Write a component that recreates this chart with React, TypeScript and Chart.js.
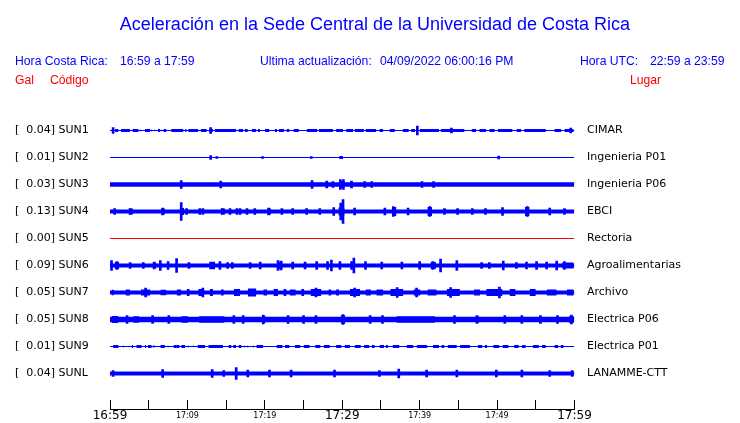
import React, { useEffect, useRef } from 'react';
import { Chart, registerables } from 'chart.js';

Chart.register(...registerables);

// ---------- text ----------
const TITLE = 'Aceleración en la Sede Central de la Universidad de Costa Rica';
const LOCAL_LABEL = 'Hora Costa Rica:';
const LOCAL_RANGE = '16:59 a 17:59';
const UPDATE_LABEL = 'Ultima actualización:';
const UPDATE_VALUE = '04/09/2022 06:00:16 PM';
const UTC_LABEL = 'Hora UTC:';
const UTC_RANGE = '22:59 a 23:59';
const COL_GAL = 'Gal';
const COL_CODE = 'Código';
const COL_PLACE = 'Lugar';

// ---------- categories ----------
const STATIONS = ['SUN1', 'SUN2', 'SUN3', 'SUN4', 'SUN5', 'SUN6', 'SUN7', 'SUN8', 'SUN9', 'SUNL'];
const PEAK_GAL = [0.04, 0.01, 0.03, 0.13, 0.0, 0.09, 0.05, 0.05, 0.01, 0.04];
const PLACES = ['CIMAR', 'Ingenieria P01', 'Ingenieria P06', 'EBCI', 'Rectoria', 'Agroalimentarias', 'Archivo', 'Electrica P06', 'Electrica P01', 'LANAMME-CTT'];

// time axis: minutes after 16:59, ticks every 5 minutes
const WINDOW_MINUTES = 60;
const TICK_STEP = 5;
const TIME_TICK_LABELS = ['16:59', '', '17:09', '', '17:19', '', '17:29', '', '17:39', '', '17:49', '', '17:59'];
const MAJOR_TIME_LABELS = ['16:59', '17:29', '17:59'];

// ---------- trace values (trace units; one row of the record = 27 units) ----------
const ROW_UNITS = 27;
// half amplitude of the continuous background noise of each trace
const NOISE_LEVEL = [0.5, 0.5, 2.3, 1.9, 0.5, 2.0, 1.9, 2.8, 0.6, 1.9];

// bursts: [start minute, end minute, half amplitude]
const SUN1_BURSTS: [number, number, number][] = [
  [0.65, 1.1, 1.6], [1.4, 2.6, 1.6], [2.9, 3.7, 1.6], [3.85, 3.95, 1.6], [4.5, 5.2, 1.6], [5.35, 5.45, 1.6],
  [5.75, 5.85, 1.6], [6.2, 6.5, 1.6], [6.65, 6.75, 1.6], [6.9, 7.3, 1.6], [7.9, 9.5, 1.6], [9.7, 9.9, 1.6],
  [10.1, 11.4, 1.6], [11.7, 12.5, 1.6], [12.8, 13.3, 1.6], [13.5, 16.3, 1.6], [16.6, 17.2, 1.6], [17.4, 17.8, 1.6],
  [18.3, 18.9, 1.6], [19.1, 19.4, 1.6], [20.0, 20.6, 1.6], [21.3, 21.6, 1.6], [21.8, 22.5, 1.6], [22.8, 23.2, 1.6],
  [23.7, 24.4, 1.6], [25.4, 26.8, 1.6], [27.0, 28.8, 1.6], [29.2, 30.1, 1.6], [30.5, 31.4, 1.6], [31.6, 32.8, 1.6],
  [33.0, 34.4, 1.6], [34.8, 35.3, 1.6], [36.1, 36.8, 1.6], [37.8, 38.6, 1.6], [38.9, 39.4, 1.6], [40.0, 42.5, 1.6],
  [42.7, 45.8, 1.6], [46.7, 47.3, 1.6], [47.7, 48.6, 1.6], [49.0, 49.7, 1.6], [50.1, 52.0, 1.6], [52.5, 53.1, 1.6],
  [53.5, 56.3, 1.6], [57.4, 58.3, 1.6], [58.7, 59.9, 1.6],
];
const SUN2_BURSTS: [number, number, number][] = [[29.6, 30.1, 1.5]];
const SUN3_BURSTS: [number, number, number][] = [[29.6, 30.3, 3.5]];
const SUN4_BURSTS: [number, number, number][] = [
  [2.4, 3.0, 3], [6.6, 7.1, 3], [9.0, 9.6, 3.5], [14.3, 14.9, 3], [20.3, 20.8, 3], [29.5, 30.3, 4],
  [36.4, 37.0, 4.5], [41.0, 41.6, 4.5], [53.6, 54.2, 4.5],
];
const SUN5_BURSTS: [number, number, number][] = [];
const SUN6_BURSTS: [number, number, number][] = [
  [0.6, 1.2, 3.5], [5.5, 6.0, 3], [13.0, 13.5, 3.5], [21.6, 22.3, 3.5], [41.4, 42.1, 3.5], [58.4, 59.9, 3],
];
const SUN7_BURSTS: [number, number, number][] = [
  [0.2, 0.5, 2.8], [2.0, 2.6, 3.1], [4.0, 5.2, 3.1], [6.5, 7.3, 2.8], [8.6, 9.2, 3.1], [9.9, 10.3, 3.4],
  [11.4, 12.0, 3.4], [12.9, 13.3, 3.4], [14.3, 14.7, 3.1], [16.0, 16.8, 3.4], [17.8, 18.9, 4], [19.8, 20.3, 3.1],
  [21.1, 21.7, 3.4], [22.4, 22.8, 3.4], [23.2, 24.0, 3.1], [24.7, 25.1, 3.4], [25.9, 27.3, 3.4], [28.2, 28.6, 3.1],
  [29.2, 29.6, 3.1], [31.0, 32.3, 3.4], [33.0, 33.7, 3.1], [34.4, 35.3, 3.1], [36.2, 37.9, 3.4], [39.2, 40.1, 3.1],
  [41.0, 42.2, 3.1], [43.5, 45.2, 3.4], [47.0, 47.8, 3.1], [48.6, 50.7, 3.4], [51.6, 52.4, 3.4], [54.2, 55.0, 3.4],
  [56.4, 57.7, 3.1], [59.0, 59.9, 3.1],
];
const SUN8_BURSTS: [number, number, number][] = [
  [0.2, 1.1, 3.5], [3.0, 3.8, 3.3], [9.2, 10.1, 3.3], [11.5, 14.8, 3.3], [19.6, 20.1, 3.6], [29.8, 30.4, 4.2],
  [37.0, 42.0, 3.3], [47.2, 47.7, 3.3], [59.3, 59.9, 3.6],
];
const SUN9_BURSTS: [number, number, number][] = [
  [0.4, 1.1, 1.4], [1.65, 1.75, 1.4], [2.8, 3.0, 1.4], [3.4, 4.1, 1.4], [4.5, 4.7, 1.4], [4.9, 5.4, 1.4],
  [5.55, 5.65, 1.4], [5.75, 5.85, 1.4], [6.5, 7.1, 1.4], [7.45, 7.55, 1.4], [8.2, 9.0, 1.4], [9.2, 9.7, 1.4],
  [10.05, 10.15, 1.4], [10.75, 10.85, 1.4], [11.3, 12.3, 1.4], [12.7, 14.6, 1.4], [15.3, 15.7, 1.4], [15.9, 16.3, 1.4],
  [16.6, 17.0, 1.4], [17.35, 17.45, 1.4], [17.75, 17.85, 1.4], [18.45, 18.55, 1.4], [18.9, 19.8, 1.4],
  [21.5, 22.3, 1.4], [22.6, 23.2, 1.4], [23.9, 24.6, 1.4], [25.0, 25.8, 1.4], [26.5, 27.2, 1.4], [27.6, 28.4, 1.4],
  [29.2, 29.9, 1.4], [30.3, 31.0, 1.4], [31.6, 32.4, 1.4], [32.8, 33.5, 1.4], [33.8, 34.2, 1.4], [34.8, 35.4, 1.4],
  [35.6, 35.9, 1.4], [36.5, 37.4, 1.4], [38.3, 39.2, 1.4], [39.6, 41.0, 1.4], [41.7, 42.5, 1.4], [42.8, 43.2, 1.4],
  [43.6, 44.8, 1.4], [45.2, 46.5, 1.4], [47.5, 48.1, 1.4], [48.4, 48.7, 1.4], [49.5, 50.3, 1.4], [50.7, 51.5, 1.4],
  [52.2, 52.8, 1.4], [53.2, 53.7, 1.4], [54.6, 55.4, 1.4], [55.8, 56.3, 1.4], [57.4, 57.9, 1.4], [58.2, 58.6, 1.4],
];
const SUNL_BURSTS: [number, number, number][] = [];

// spikes: [minute, half amplitude]
const SUN1_SPIKES: [number, number][] = [[0.4, 3], [13.0, 3], [39.7, 4.5], [44.1, 2.5], [59.5, 2.5]];
const SUN2_SPIKES: [number, number][] = [[13.0, 2], [13.8, 1], [19.7, 1], [26.0, 1], [50.2, 1.5]];
const SUN3_SPIKES: [number, number][] = [
  [9.2, 4], [14.3, 3.5], [26.1, 4], [28.0, 3.5], [28.8, 3], [29.75, 5], [30.15, 5], [31.2, 3.5], [32.9, 3],
  [33.8, 3], [40.3, 3], [41.8, 3],
];
const SUN4_SPIKES: [number, number][] = [
  [0.6, 3], [2.6, 3], [6.8, 3.5], [9.2, 9], [9.9, 3], [11.6, 3], [12.0, 3], [14.5, 3], [15.5, 3], [16.4, 3],
  [16.8, 3], [17.7, 3], [18.7, 3], [20.5, 3.5], [22.2, 3], [23.6, 3], [25.4, 3], [27.1, 3], [28.9, 4], [29.8, 8.5],
  [30.1, 12], [31.6, 3.5], [35.5, 3.5], [36.6, 5], [38.5, 3.5], [41.3, 5], [43.2, 3], [44.9, 3], [46.8, 3],
  [48.5, 3], [50.7, 4], [53.9, 5], [56.8, 3.5], [58.7, 3],
];
const SUN5_SPIKES: [number, number][] = [];
const SUN6_SPIKES: [number, number][] = [
  [0.2, 5], [0.9, 4], [2.6, 3], [4.3, 3], [5.7, 3.5], [6.5, 5], [7.5, 4], [8.6, 7], [10.2, 3], [13.0, 3.5],
  [13.4, 3.5], [14.2, 4], [15.2, 3], [15.8, 3], [18.1, 3], [19.4, 3.5], [21.7, 5], [22.1, 4.5], [23.6, 3.5],
  [25.2, 3.5], [26.7, 4], [28.1, 4], [28.6, 5.5], [29.7, 4], [31.2, 4], [31.5, 7.5], [33.0, 4], [35.1, 3.5],
  [37.7, 3.5], [40.0, 4], [41.7, 4], [42.7, 6.5], [44.8, 5], [48.0, 3], [49.0, 3], [50.8, 4.5], [52.5, 3],
  [53.8, 3.5], [55.1, 4], [56.4, 3.5], [57.7, 4.5], [58.7, 4],
];
const SUN7_SPIKES: [number, number][] = [
  [4.6, 4.5], [12.0, 4.5], [26.6, 4.5], [31.6, 4.5], [37.1, 5], [39.6, 4.5], [44.0, 5], [50.3, 5.5],
];
const SUN8_SPIKES: [number, number][] = [
  [2.2, 3.8], [5.5, 3.8], [7.6, 3.8], [16.0, 3.8], [17.2, 3.8], [19.8, 4.5], [23.0, 3.8], [25.0, 3.8],
  [26.6, 3.8], [30.1, 5], [33.6, 3.8], [35.2, 3.8], [44.5, 3.8], [47.4, 4], [51.0, 3.8], [53.2, 3.8],
  [55.6, 3.8], [57.8, 3.8], [59.6, 4.5],
];
const SUN9_SPIKES: [number, number][] = [];
const SUNL_SPIKES: [number, number][] = [
  [0.4, 3], [6.8, 4], [13.2, 4], [14.7, 3], [16.3, 6], [17.8, 3.5], [20.6, 3.5], [23.4, 3.5], [29.0, 3.5],
  [34.8, 3], [37.3, 4.5], [40.9, 3.5], [44.8, 3.5], [49.9, 3.5], [53.2, 3.5], [56.8, 3], [59.7, 3],
];

const BURSTS = [SUN1_BURSTS, SUN2_BURSTS, SUN3_BURSTS, SUN4_BURSTS, SUN5_BURSTS, SUN6_BURSTS, SUN7_BURSTS, SUN8_BURSTS, SUN9_BURSTS, SUNL_BURSTS];
const SPIKES = [SUN1_SPIKES, SUN2_SPIKES, SUN3_SPIKES, SUN4_SPIKES, SUN5_SPIKES, SUN6_SPIKES, SUN7_SPIKES, SUN8_SPIKES, SUN9_SPIKES, SUNL_SPIKES];

// ---------- styles ----------
const TRACE_BLUE = '#0000ff';
const TRACE_RED = '#ff0000';
const CLEAR = 'rgba(0,0,0,0)';
const traceColor = (i: number) => (STATIONS[i] === 'SUN5' ? TRACE_RED : TRACE_BLUE);
const rowCenter = (i: number) => (STATIONS.length - 1 - i) * ROW_UNITS;

function buildDatasets() {
  const ds: any[] = [];
  STATIONS.forEach((_, i) => {
    const c = rowCenter(i);
    const color = traceColor(i);
    const n = NOISE_LEVEL[i];
    ds.push({
      type: 'line',
      data: [{ x: 0, y: c + n }, { x: WINDOW_MINUTES, y: c + n }],
      fill: { value: c - n },
      backgroundColor: color,
      borderColor: CLEAR,
      borderWidth: 0,
      pointRadius: 0,
      tension: 0,
    });
    const bursts = BURSTS[i];
    if (bursts.length) {
      const up: any[] = [];
      const lo: any[] = [];
      bursts.forEach(([t0, t1, a]) => {
        up.push({ x: t0, y: c + a }, { x: t1, y: c + a }, { x: t1, y: null });
        lo.push({ x: t0, y: c - a }, { x: t1, y: c - a }, { x: t1, y: null });
      });
      ds.push({ type: 'line', data: up, fill: false, borderColor: CLEAR, borderWidth: 0, pointRadius: 0, spanGaps: false, tension: 0 });
      ds.push({ type: 'line', data: lo, fill: '-1', backgroundColor: color, borderColor: CLEAR, borderWidth: 0, pointRadius: 0, spanGaps: false, tension: 0 });
    }
    const spikes = SPIKES[i];
    if (spikes.length) {
      ds.push({
        type: 'bar',
        data: spikes.map(([t, a]) => ({ x: t, y: [c - a, c + a] })),
        backgroundColor: color,
        borderWidth: 0,
        barThickness: 2,
        grouped: false,
      });
    }
  });
  return ds;
}

const tickMarks = {
  id: 'tickMarks',
  afterDraw(chart: any) {
    const xs = chart.scales.x;
    const ctx = chart.ctx;
    const bottom = chart.chartArea.bottom;
    ctx.save();
    ctx.strokeStyle = '#000';
    ctx.lineWidth = 1;
    ctx.beginPath();
    xs.ticks.forEach((t: any) => {
      const px = Math.floor(xs.getPixelForValue(t.value)) + 0.5;
      ctx.moveTo(px, bottom - 9);
      ctx.lineTo(px, bottom + 0.5);
    });
    ctx.stroke();
    ctx.restore();
  },
};

const rowTicks = (s: any) => {
  s.ticks = STATIONS.map((_, i) => ({ value: rowCenter(i) }));
};

const noPad = (s: any) => {
  s.paddingTop = 0;
  s.paddingBottom = 0;
  s.paddingLeft = 0;
  s.paddingRight = 0;
};

const Y_MIN = -35.5;
const Y_MAX = (STATIONS.length - 1) * ROW_UNITS + ROW_UNITS / 2;

const textBase: React.CSSProperties = {
  position: 'absolute',
  fontFamily: '"Liberation Sans", Arial, sans-serif',
  lineHeight: 1,
  whiteSpace: 'pre',
  margin: 0,
};

export default function App() {
  const ref = useRef<HTMLCanvasElement>(null);
  useEffect(() => {
    const chart = new Chart(ref.current as HTMLCanvasElement, {
      type: 'line',
      data: { datasets: buildDatasets() },
      plugins: [tickMarks],
      options: {
        animation: false,
        responsive: false,
        maintainAspectRatio: false,
        devicePixelRatio: 1,
        events: [],
        layout: { padding: { left: 15, top: 117, right: 0, bottom: 0 } },
        plugins: { legend: { display: false }, tooltip: { enabled: false }, title: { display: false } },
        scales: {
          x: {
            type: 'linear',
            position: 'bottom',
            min: 0,
            max: WINDOW_MINUTES,
            offset: false,
            afterFit: (s: any) => { s.height = 14; noPad(s); },
            grid: { display: false, drawTicks: false },
            border: { display: true, color: '#000', width: 1 },
            ticks: {
              stepSize: TICK_STEP,
              autoSkip: false,
              maxRotation: 0,
              minRotation: 0,
              padding: 0,
              color: '#000',
              callback: (_v: any, i: number) => TIME_TICK_LABELS[i] ?? '',
              font: (ctx: any) => {
                const lbl = TIME_TICK_LABELS[ctx.index];
                return MAJOR_TIME_LABELS.includes(lbl)
                  ? { family: '"DejaVu Sans"', size: 12, lineHeight: 1.2 }
                  : { family: '"DejaVu Sans"', size: 8, lineHeight: 1.65 };
              },
            },
          },
          y: {
            type: 'linear',
            position: 'left',
            min: Y_MIN,
            max: Y_MAX,
            afterFit: (s: any) => { s.width = 95; noPad(s); },
            afterBuildTicks: rowTicks,
            grid: { display: false, drawTicks: false },
            border: { display: false },
            ticks: {
              crossAlign: 'far',
              padding: 0,
              color: '#000',
              font: { family: '"DejaVu Sans"', size: 11 },
              callback: (_v: any, i: number) => `[  ${PEAK_GAL[i].toFixed(2)}] ${STATIONS[i]}`,
            },
          },
          y2: {
            type: 'linear',
            position: 'right',
            min: Y_MIN,
            max: Y_MAX,
            afterFit: (s: any) => { s.width = 165.5; noPad(s); },
            afterBuildTicks: rowTicks,
            grid: { display: false, drawTicks: false },
            border: { display: false },
            ticks: {
              padding: 12.5,
              color: '#000',
              font: { family: '"DejaVu Sans"', size: 11 },
              callback: (_v: any, i: number) => PLACES[i],
            },
          },
        },
      } as any,
    });
    return () => chart.destroy();
  }, []);

  const blue = '#0000ff';
  const red = '#ff0000';
  const hdr = 12.2;
  return (
    <div style={{ position: 'fixed', left: 0, top: 0, width: 740, height: 423, background: '#fff', overflow: 'hidden' }}>
      <canvas ref={ref} width={740} height={423} style={{ position: 'absolute', left: 0, top: 0, width: 740, height: 423 }} />
      <div style={{ ...textBase, left: 0, width: 750, textAlign: 'center', top: 14.6, fontSize: 18, color: blue }}>{TITLE}</div>
      <div style={{ ...textBase, left: 15, top: 54.7, fontSize: hdr, color: blue }}>{LOCAL_LABEL}</div>
      <div style={{ ...textBase, left: 120, top: 54.7, fontSize: hdr, color: blue }}>{LOCAL_RANGE}</div>
      <div style={{ ...textBase, left: 260, top: 54.7, fontSize: hdr, color: blue }}>{UPDATE_LABEL}</div>
      <div style={{ ...textBase, left: 380, top: 54.7, fontSize: hdr, color: blue }}>{UPDATE_VALUE}</div>
      <div style={{ ...textBase, left: 580, top: 54.7, fontSize: hdr, color: blue }}>{UTC_LABEL}</div>
      <div style={{ ...textBase, left: 650, top: 54.7, fontSize: hdr, color: blue }}>{UTC_RANGE}</div>
      <div style={{ ...textBase, left: 15, top: 74, fontSize: hdr, color: red }}>{COL_GAL}</div>
      <div style={{ ...textBase, left: 50, top: 74, fontSize: hdr, color: red }}>{COL_CODE}</div>
      <div style={{ ...textBase, left: 630, top: 74, fontSize: hdr, color: red }}>{COL_PLACE}</div>
    </div>
  );
}
